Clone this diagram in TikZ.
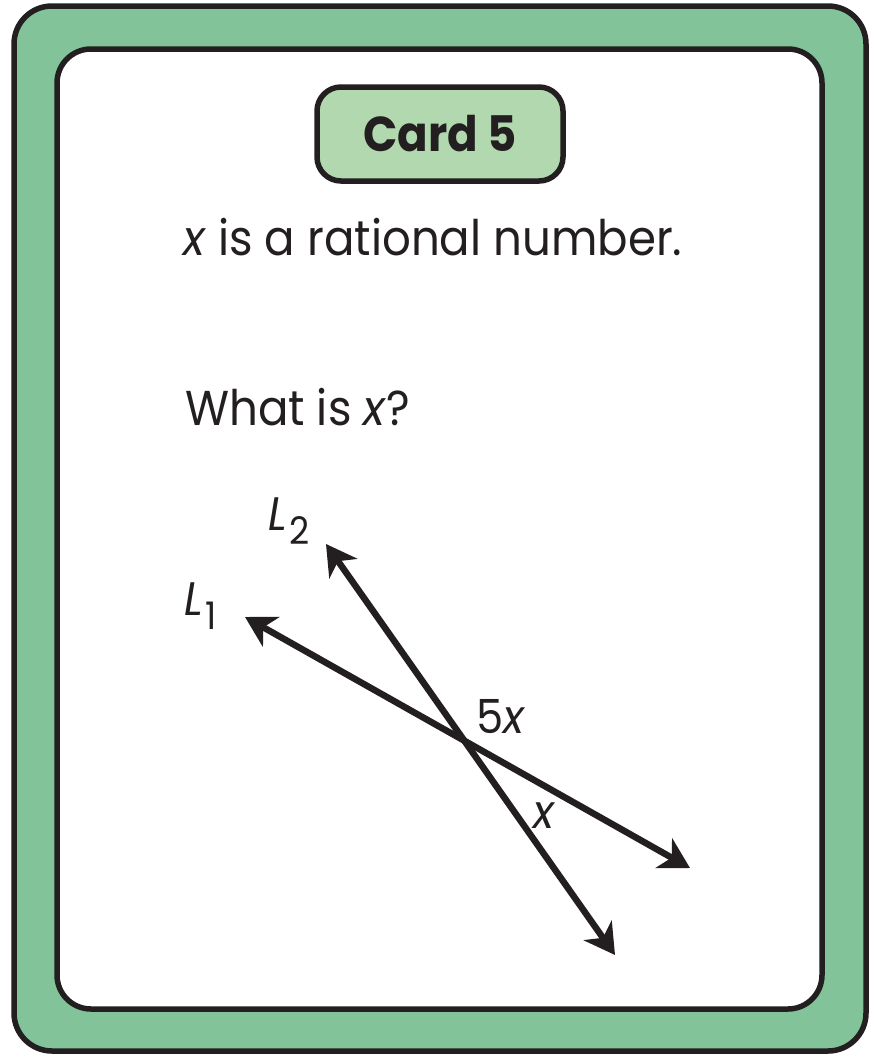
\documentclass[tikz,border=0pt]{standalone}
\usepackage{fontspec}
\setmainfont{Poppins}[FakeStretch=0.92]
\usetikzlibrary{arrows.meta}
\definecolor{cardgreen}{HTML}{82C39A}
\definecolor{titlegreen}{HTML}{B2D8B0}
\definecolor{ink}{HTML}{231F20}
\newcommand{\subdigit}[1]{\kern3pt\raisebox{-0.3em}{\fontsize{38}{42}\selectfont #1}}
\tikzset{
  frame/.style={draw=ink, line width=5.5pt},
  ray/.style={draw=ink, line width=6.5pt, {Stealth[length=30pt,width=34pt,inset=9pt]}-{Stealth[length=30pt,width=34pt,inset=9pt]}},
  bodytext/.style={anchor=base west, text=ink, inner sep=0pt, font=\fontsize{49}{56}\selectfont},
  lbl/.style={text=ink, inner sep=0pt, font=\fontsize{47}{54}\selectfont}
}
\begin{document}
\begin{tikzpicture}[x=1pt,y=-1pt]
\useasboundingbox (0,0) rectangle (880,1060);
\fill[white] (0,0) rectangle (880,1060);
% outer card
\path[frame, fill=cardgreen, rounded corners=38pt] (14,6) rectangle (866,1051);
% inner panel
\path[frame, fill=white, rounded corners=34pt] (57,49) rectangle (822,1009);
% title
\node[draw=ink, line width=5.5pt, fill=titlegreen, rounded corners=24pt,
      minimum width=246pt, minimum height=94pt, inner sep=0pt, text=ink,
      font=\bfseries\fontsize{49}{56}\selectfont] (title) at (440,134) {Card 5};
% texts
\node[bodytext] (line1) at (183,255) {\textit{x} is a rational number.};
\node[bodytext] (line2) at (185,425) {What is \textit{x}?};
% lines
\coordinate (l1a) at (245,617);
\coordinate (l1b) at (690,868);
\coordinate (l2a) at (326,544);
\coordinate (l2b) at (615,955);
\draw[ray] (l1a) -- (l1b);
\draw[ray] (l2a) -- (l2b);
% labels
\node[lbl, anchor=base west] (lab1) at (184,615) {\textit{L}\subdigit{1}};
\node[lbl, anchor=base west] (lab2) at (268,530) {\textit{L}\subdigit{2}};
\node[lbl, anchor=base west] (ang1) at (476,733) {5\textit{x}};
\node[lbl, anchor=base west] (ang2) at (533,828) {\textit{x}};
\end{tikzpicture}
\end{document}
